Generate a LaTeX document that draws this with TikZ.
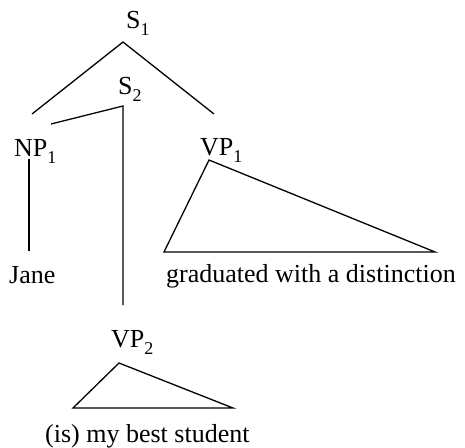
\documentclass[tikz,border=0pt]{standalone}
\usepackage{fontspec}
\setmainfont{Liberation Serif}
\usetikzlibrary{positioning}

\newcommand{\lsub}[1]{\raisebox{-7pt}{\fontsize{18}{18}\selectfont #1}}

\begin{document}
\begin{tikzpicture}[
        x=1pt, y=-1pt,
        cat/.style={anchor=base west, inner sep=0pt,
                    font=\fontsize{26}{30}\selectfont},
        branch/.style={line width=1.3pt, line join=miter},
    ]
    \useasboundingbox (0,0) rectangle (465,447);

    % labels
    \node[cat] (s1)   at (126,28)  {S\lsub{1}};
    \node[cat] (s2)   at (118,94)  {S\lsub{2}};
    \node[cat] (np1)  at (14,156)  {NP\lsub{1}};
    \node[cat] (vp1)  at (200,155) {VP\lsub{1}};
    \node[cat] (vp2)  at (111,347) {VP\lsub{2}};
    \node[cat] (jane) at (9,283)   {Jane};
    \node[cat] (grad) at (166,282) {graduated with a distinction};
    \node[cat] (stud) at (45,442)  {(is) my best student};

    % branch ends
    \coordinate (s1top)  at (123,42);
    \coordinate (s1l)    at (32,114);
    \coordinate (s1r)    at (214,114);
    \coordinate (s2top)  at (123,106);
    \coordinate (s2l)    at (51,124);
    \coordinate (s2bot)  at (123,305);
    \coordinate (np1top) at (29,159);
    \coordinate (np1bot) at (29,251);
    \coordinate (vp1top) at (209,160);
    \coordinate (vp1l)   at (164,252);
    \coordinate (vp1r)   at (435,252);
    \coordinate (vp2top) at (119,363);
    \coordinate (vp2l)   at (73,408);
    \coordinate (vp2r)   at (233,408);

    \draw[branch] (s1l) -- (s1top) -- (s1r);
    \draw[branch] (s2l) -- (s2top) -- (s2bot);
    \draw[branch] (np1top) -- (np1bot);
    \draw[branch] (vp1top) -- (vp1l) -- (vp1r) -- cycle;
    \draw[branch] (vp2top) -- (vp2l) -- (vp2r) -- cycle;
\end{tikzpicture}
\end{document}
